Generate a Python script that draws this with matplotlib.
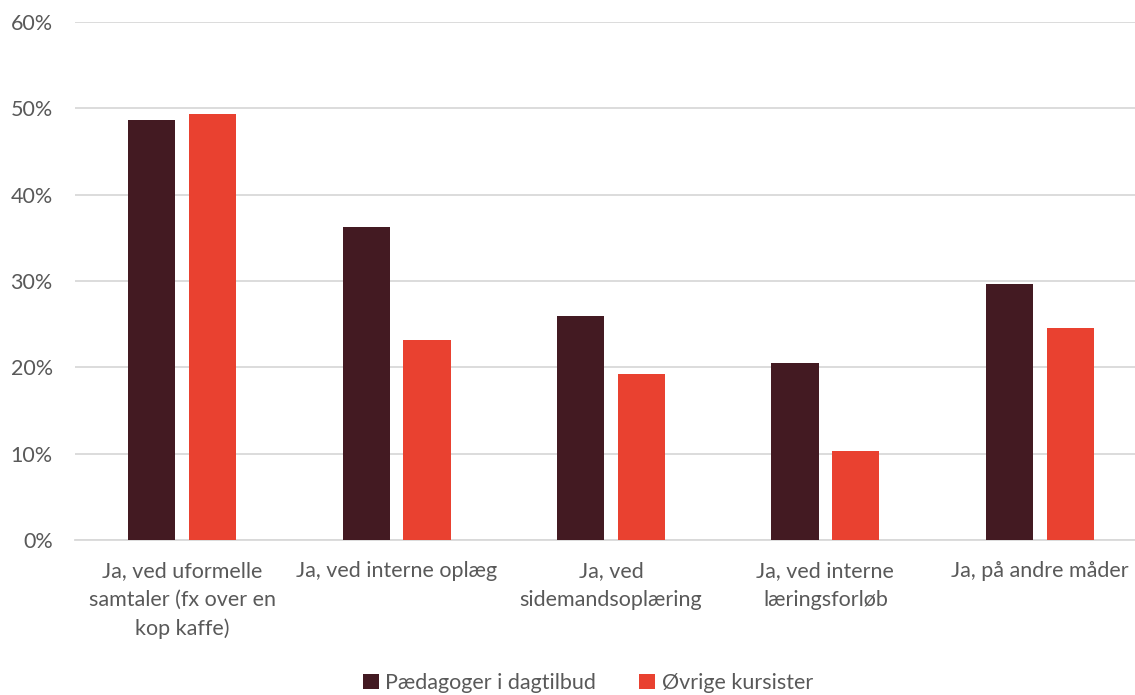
import numpy as np
import matplotlib.pyplot as plt

# --- data ---
categories = [
    "Ja, ved uformelle\nsamtaler (fx over en\nkop kaffe)",
    "Ja, ved interne oplæg",
    "Ja, ved\nsidemandsoplæring",
    "Ja, ved interne\nlæringsforløb",
    "Ja, på andre måder",
]
paedagoger = [48.7, 36.3, 26.0, 20.5, 29.7]
oevrige = [49.4, 23.2, 19.2, 10.3, 24.6]
series_names = ["Pædagoger i dagtilbud", "Øvrige kursister"]

plt.rcParams['font.family'] = ['Lato', 'DejaVu Sans']
text_color = '#595959'

fig = plt.figure(figsize=(11.35, 6.95), dpi=100)
ax = fig.add_axes([75 / 1135, 1 - 540 / 695, 1072 / 1135, 518 / 695])

x = np.arange(len(categories))
w = 0.22
off = 0.142
ax.bar(x - off, paedagoger, w, color='#431a22', label=series_names[0], zorder=3)
ax.bar(x + off, oevrige, w, color='#e94130', label=series_names[1], zorder=3)

ax.set_xlim(-0.5, len(categories) - 0.5)
ax.set_ylim(0, 60)
ax.set_yticks(np.arange(0, 61, 10))
ax.set_yticklabels([f"{v}%" for v in range(0, 61, 10)])
ax.set_xticks(x)
ax.set_xticklabels(categories, linespacing=1.55)
ax.yaxis.grid(True, color='#d9d9d9', linewidth=1.3, zorder=0)

for s in ['top', 'right', 'left']:
    ax.spines[s].set_visible(False)
ax.spines['bottom'].set_color('#d9d9d9')
ax.spines['bottom'].set_linewidth(1.3)
ax.tick_params(axis='both', length=0, labelsize=15.5, colors=text_color)
ax.tick_params(axis='x', pad=15)
ax.tick_params(axis='y', pad=16)

leg = fig.legend(loc='center', bbox_to_anchor=(0.518, 1 - 683 / 695), ncol=2,
                 frameon=False, fontsize=15.5, handlelength=0.75, handleheight=0.75,
                 handletextpad=0.3, columnspacing=2.0)
for t in leg.get_texts():
    t.set_color(text_color)

fig.savefig('out.png', dpi=100)
